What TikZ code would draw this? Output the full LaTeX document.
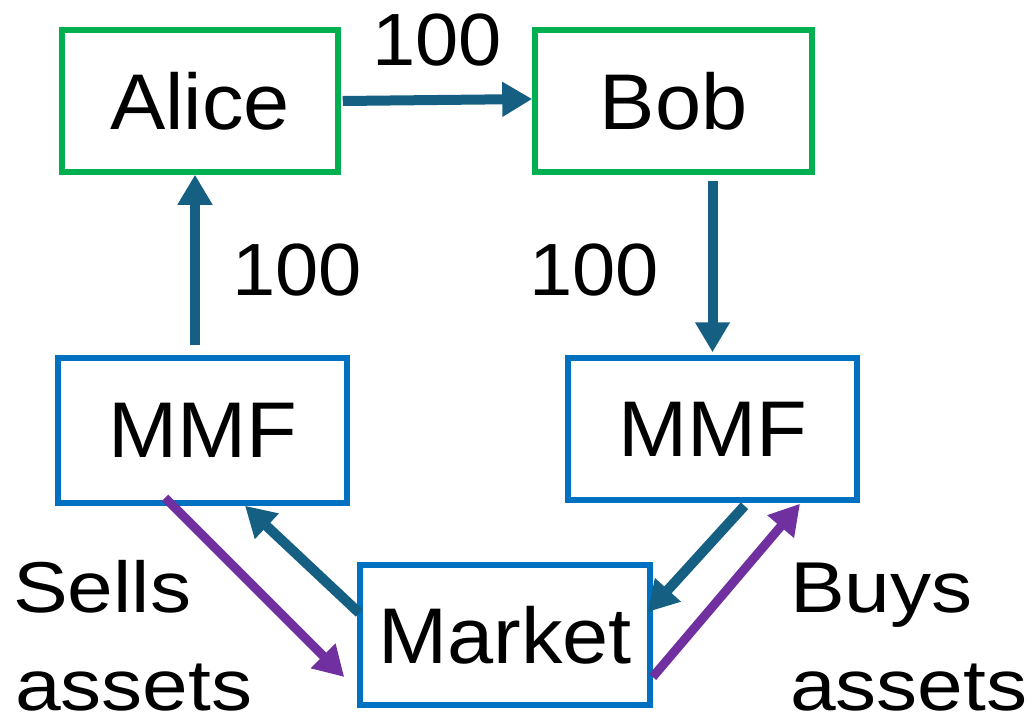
\documentclass[tikz,border=0pt]{standalone}
\usepackage{fontspec}
\setmainfont{Liberation Sans}[FakeStretch=1.05]
\newfontfamily\lblfont{Liberation Sans}[FakeStretch=1.14]
\usetikzlibrary{arrows.meta}
\definecolor{grn}{HTML}{00B050}
\definecolor{blu}{HTML}{0070C0}
\definecolor{teal1}{HTML}{156082}
\definecolor{purp}{HTML}{7030A0}
\begin{document}
\begin{tikzpicture}[x=1pt,y=-1pt,
  person/.style={draw=grn,line width=5.5pt,fill=white,inner sep=0pt,font=\fontsize{79}{90}\selectfont},
  fund/.style={draw=blu,line width=5.5pt,fill=white,inner sep=0pt,font=\fontsize{79}{90}\selectfont},
  flow/.style={draw=teal1,line width=10pt,-{Triangle[length=30pt,width=33pt]}},
  trade/.style={draw=purp,line width=9pt,-{Triangle[length=30pt,width=33pt]}},
  amt/.style={font=\fontsize{74}{80}\selectfont,inner sep=0pt},
  lbl/.style={font=\lblfont\fontsize{72}{80}\selectfont,inner sep=0pt,anchor=base west}]
\useasboundingbox (0,0) rectangle (1035,717);
\node[person,minimum width=276pt,minimum height=142pt] (alice) at (200,101) {Alice};
\node[person,minimum width=277pt,minimum height=142pt] (bob) at (673.5,101) {Bob};
\node[fund,minimum width=289pt,minimum height=145pt] (mmfl) at (202.5,430.5) {MMF};
\node[fund,minimum width=289pt,minimum height=142pt] (mmfr) at (712.5,429) {MMF};
\node[fund,minimum width=290pt,minimum height=140pt] (market) at (505,635) {Market};
\draw[flow] ([xshift=2pt]alice.east) -- ([yshift=2pt]bob.west);
\draw[flow] ([xshift=-7.5pt,yshift=10pt]mmfl.north) -- ([xshift=-5pt]alice.south);
\draw[flow] ([yshift=-6pt]bob.south -| mmfr.north) -- ([yshift=3pt]mmfr.north);
\draw[flow] ([xshift=2pt,yshift=22pt]market.west) -- ([xshift=42.5pt]mmfl.south);
\draw[flow] ([xshift=32pt,yshift=-3pt]mmfr.south) -- ([xshift=-5pt,yshift=23pt]market.east);
\draw[trade] ([xshift=-37.5pt,yshift=8pt]mmfl.south) -- ([xshift=-13pt,yshift=-42pt]market.west);
\draw[trade] ([yshift=-42pt]market.east) -- ([xshift=87.5pt,yshift=-1pt]mmfr.south);
\node[amt] (a1) at (437,40) {100};
\node[amt] (a2) at (297,270) {100};
\node[amt] (a3) at (594,270) {100};
\node[lbl] (s1) at (13,612) {Sells};
\node[lbl] (s2) at (15,710) {assets};
\node[lbl] (b1) at (790,612) {Buys};
\node[lbl] (b2) at (790,710) {assets};
\end{tikzpicture}
\end{document}
